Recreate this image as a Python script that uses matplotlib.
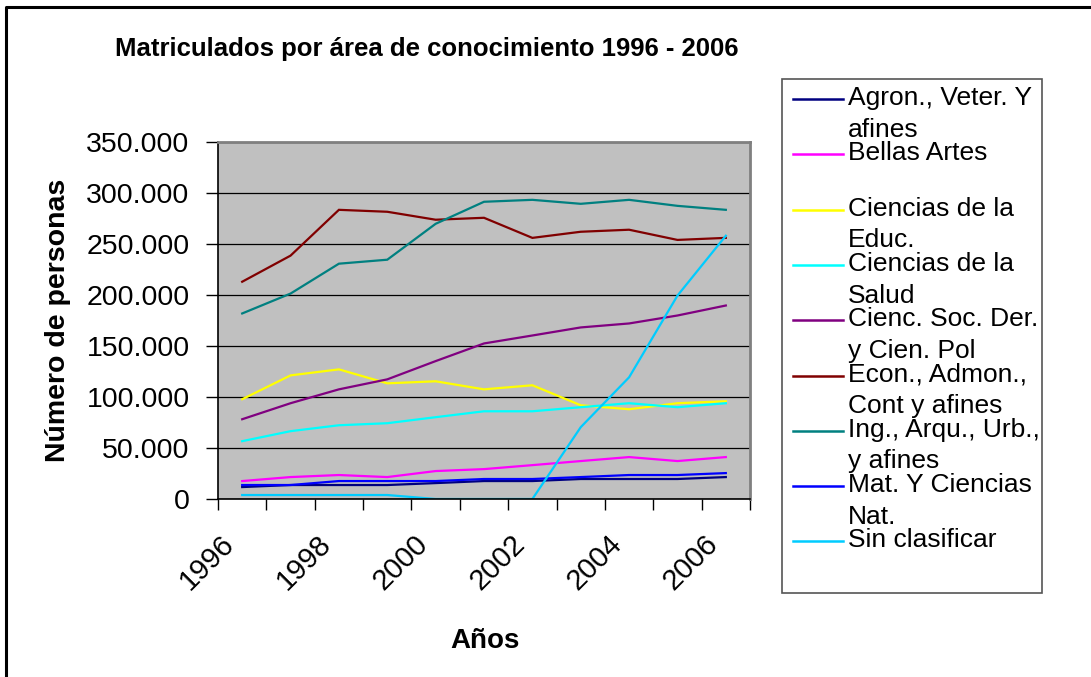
import numpy as np
import matplotlib
matplotlib.use('Agg')
import matplotlib.pyplot as plt
from matplotlib.lines import Line2D
from matplotlib.patches import Rectangle
from matplotlib.ticker import FuncFormatter
from matplotlib.transforms import ScaledTranslation

plt.rcParams['font.family'] = ['Liberation Sans', 'DejaVu Sans']

years = [1996, 1997, 1998, 1999, 2000, 2001, 2002, 2003, 2004, 2005, 2006]

agron = [11700, 13700, 13700, 13700, 15600, 17600, 17600, 19600, 19600, 19600, 21500]
bellas = [17600, 21500, 23500, 21500, 27400, 29300, 33200, 37200, 41100, 37200, 41100]
educ = [97800, 121200, 127100, 113400, 115400, 107500, 111500, 91900, 88000, 93900, 95800]
salud = [56700, 66500, 72300, 74300, 80200, 86000, 86000, 90000, 93900, 90000, 93900]
soc = [78200, 93900, 107500, 117300, 135200, 152500, 160300, 168200, 172100, 179900, 189700]
econ = [213000, 238600, 283500, 281600, 273800, 275700, 256000, 262000, 264000, 254000, 256000]
ing = [181900, 201400, 230700, 234600, 269800, 291400, 293300, 289400, 293300, 287400, 283500]
mat = [13700, 13700, 17600, 17600, 17600, 19600, 19600, 21500, 23500, 23500, 25400]
sinclas = [3900, 3900, 3900, 3900, 0, 0, 0, 70400, 119300, 199400, 258100]

series = [agron, bellas, educ, salud, soc, econ, ing, mat, sinclas]
names = ['Agron., Veter. Y\nafines', 'Bellas Artes', 'Ciencias de la\nEduc.',
         'Ciencias de la\nSalud', 'Cienc. Soc. Der.\ny Cien. Pol',
         'Econ., Admon.,\nCont y afines', 'Ing., Arqu., Urb.,\ny afines',
         'Mat. Y Ciencias\nNat.', 'Sin clasificar']
colors = ['#000080', '#FF00FF', '#FFFF00', '#00FFFF', '#800080',
          '#800000', '#008080', '#0000FF', '#00CCFF']

W, H = 1091, 677
fig = plt.figure(figsize=(W/100, H/100), dpi=100)


def fx(px):
    return px/W


def fy(py):
    return 1 - py/H


# outer chart frame (only top and left visible)
fig.add_artist(Line2D([fx(6), fx(6), fx(W+5)], [fy(H+5), fy(7), fy(7)],
                      color='black', lw=2.2))

ax = fig.add_axes([fx(218), fy(499), fx(750)-fx(218), fy(142)-fy(499)])
ax.set_facecolor('#C0C0C0')
x = np.arange(len(years))
for s, c in zip(series, colors):
    ax.plot(x, s, color=c, lw=1.6, solid_joinstyle='miter')

ax.set_xlim(-0.5, len(years)-0.5)
ax.set_ylim(0, 350000)
ax.set_yticks(np.arange(0, 350001, 50000))
ax.yaxis.set_major_formatter(FuncFormatter(
    lambda v, p: '{:,.0f}'.format(v).replace(',', '.')))
ax.grid(axis='y', color='black', lw=0.9)
ax.set_axisbelow(True)

ax.set_xticks(x[::2])
ax.set_xticklabels([str(y) for y in years[::2]], rotation=45, ha='right',
                   va='center', rotation_mode='anchor')
ax.set_xticks(np.arange(-0.5, len(years)), minor=True)
ax.tick_params(axis='x', which='major', length=0, pad=29, labelsize=21)
ax.tick_params(axis='x', which='minor', length=8, width=1, direction='out')
ax.tick_params(axis='y', length=9, width=1, direction='out', pad=11.5,
               labelsize=20.5)
shift = ScaledTranslation(-0.12, 0, fig.dpi_scale_trans)
for lab in ax.get_xticklabels():
    lab.set_transform(lab.get_transform() + shift)

for side in ['top', 'right']:
    ax.spines[side].set_color('#808080')
    ax.spines[side].set_linewidth(2)
for side in ['left', 'bottom']:
    ax.spines[side].set_color('black')
    ax.spines[side].set_linewidth(1.2)

ax.set_ylabel('Número de personas', fontsize=20.5, fontweight='bold',
              va='center', ha='center')
ax.yaxis.set_label_coords((58-218)/532, 0.5)
ax.set_xlabel('Años', fontsize=20, fontweight='bold', va='baseline')
ax.xaxis.set_label_coords((485-218)/532, (499-648)/357)

fig.text(fx(427), fy(56), 'Matriculados por área de conocimiento 1996 - 2006',
         ha='center', va='baseline', fontsize=18.5, fontweight='bold')

# legend
fig.add_artist(Rectangle((fx(782), fy(593)), fx(1042)-fx(782),
                         fy(79)-fy(593), facecolor='white',
                         edgecolor='#555555', lw=1.2))
for i, (name, c) in enumerate(zip(names, colors)):
    ym = 99 + i*55.3
    fig.add_artist(Line2D([fx(793), fx(843)], [fy(ym), fy(ym)], color=c,
                          lw=1.8))
    for j, line in enumerate(name.split('\n')):
        fig.text(fx(848), fy(ym + 6 + j*31.7), line, ha='left',
                 va='baseline', fontsize=19)

fig.savefig('out.png', dpi=100)
